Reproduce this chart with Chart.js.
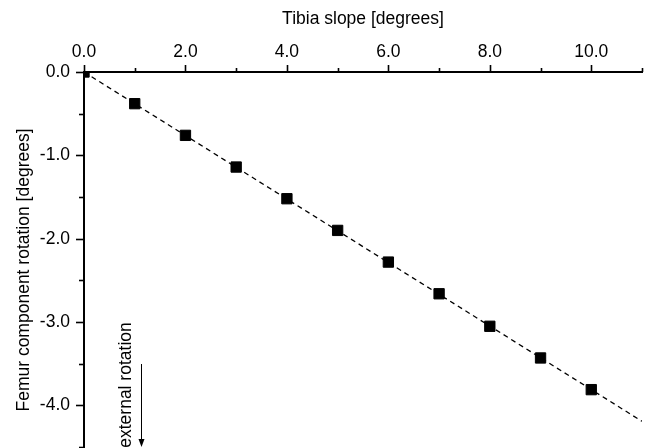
<!DOCTYPE html>
<html>
<head>
<meta charset="utf-8">
<script src="https://cdn.jsdelivr.net/npm/chart.js@4"></script>
<style>
html,body{margin:0;padding:0;background:#fff;overflow:hidden;}
#wrap{width:652px;height:448px;position:relative;}
canvas{display:block;}
</style>
</head>
<body>
<div id="wrap"><canvas id="c" width="652" height="448"></canvas></div>
<script>
// ---- data ----
const tibiaSlope = [0, 1, 2, 3, 4, 5, 6, 7, 8, 9, 10];
const femurRotation = [0, -0.38, -0.76, -1.14, -1.52, -1.90, -2.28, -2.66, -3.05, -3.43, -3.81];
const fitX = [0, 11];
const fitY = [0, -4.19];
const xTickValues = [0, 1, 2, 3, 4, 5, 6, 7, 8, 9, 10, 11];
const xTickLabels = ['0.0', '', '2.0', '', '4.0', '', '6.0', '', '8.0', '', '10.0', ''];
const yTickValues = [0, -0.5, -1, -1.5, -2, -2.5, -3, -3.5, -4, -4.5];
const yTickLabels = ['0.0', '', '-1.0', '', '-2.0', '', '-3.0', '', '-4.0', ''];
const xTitle = 'Tibia slope [degrees]';
const yTitle = 'Femur component rotation [degrees]';
const annotationText = 'external rotation';

const FONT = "'Liberation Sans', Arial, sans-serif";
const FS = 17.5;

const tickPlugin = {
  id: 'customTicks',
  afterDraw(chart) {
    const ctx = chart.ctx;
    const xs = chart.scales.x, ys = chart.scales.y;
    const area = chart.chartArea;
    ctx.save();
    ctx.strokeStyle = '#000';
    ctx.lineWidth = 1.6;
    xTickValues.forEach((v, i) => {
      const px = Math.round(xs.getPixelForValue(v)) + 0.5;
      const len = xTickLabels[i] ? 7 : 4;
      ctx.beginPath();
      ctx.moveTo(px, area.top);
      ctx.lineTo(px, area.top - len);
      ctx.stroke();
    });
    yTickValues.forEach((v, i) => {
      const py = Math.round(ys.getPixelForValue(v)) + 0.5;
      const len = yTickLabels[i] ? 8 : 5;
      ctx.beginPath();
      ctx.moveTo(area.left, py);
      ctx.lineTo(area.left - len, py);
      ctx.stroke();
    });
    // y axis title
    ctx.fillStyle = '#000';
    ctx.font = FS + 'px ' + FONT;
    ctx.textAlign = 'center';
    ctx.textBaseline = 'middle';
    ctx.save();
    ctx.translate(24, 270);
    ctx.rotate(-Math.PI / 2);
    ctx.fillText(yTitle, 0, 0);
    ctx.restore();
    // annotation text
    ctx.save();
    ctx.translate(126, 385);
    ctx.rotate(-Math.PI / 2);
    ctx.fillText(annotationText, 0, 0);
    ctx.restore();
    // arrow
    const ax = 141.5;
    ctx.lineWidth = 1;
    ctx.beginPath();
    ctx.moveTo(ax, 364);
    ctx.lineTo(ax, 442);
    ctx.stroke();
    ctx.beginPath();
    ctx.moveTo(ax - 3, 439);
    ctx.lineTo(ax + 3, 439);
    ctx.lineTo(ax, 447);
    ctx.closePath();
    ctx.fill();
    ctx.restore();
  }
};

function labelFor(values, labels, v) {
  const i = values.findIndex(t => Math.abs(t - v) < 1e-9);
  return (i >= 0 && labels[i]) ? labels[i] : null;
}

new Chart(document.getElementById('c'), {
  type: 'scatter',
  data: {
    datasets: [
      {
        type: 'scatter',
        data: tibiaSlope.map((x, i) => ({x: x, y: femurRotation[i]})),
        pointStyle: 'rect',
        pointRadius: 7.3,
        pointHoverRadius: 7.3,
        pointBackgroundColor: '#000',
        pointBorderColor: '#000',
        pointBorderWidth: 1,
        clip: 0,
        order: 1
      },
      {
        type: 'line',
        data: fitX.map((x, i) => ({x: x, y: fitY[i]})),
        borderColor: '#000',
        borderWidth: 1.3,
        borderDash: [5, 4],
        pointRadius: 0,
        pointHoverRadius: 0,
        fill: false,
        clip: 0,
        order: 2
      }
    ]
  },
  options: {
    responsive: false,
    animation: false,
    devicePixelRatio: 1,
    layout: {autoPadding: false, padding: {left: 0, right: 10, top: 0, bottom: 0}},
    plugins: {legend: {display: false}, tooltip: {enabled: false}},
    scales: {
      x: {
        type: 'linear',
        position: 'top',
        min: 0, max: 11,
        afterFit(s) { s.height = 72; s.paddingLeft = 0; s.paddingRight = 0; },
        border: {display: true, color: '#000', width: 2},
        grid: {display: true, drawOnChartArea: false, drawTicks: false},
        ticks: {
          stepSize: 1, autoSkip: false, maxRotation: 0, padding: 9,
          color: '#000', font: {family: FONT, size: FS},
          callback(v) { return labelFor(xTickValues, xTickLabels, v); }
        },
        title: {display: true, text: xTitle, color: '#000', font: {family: FONT, size: FS}, padding: {top: 9, bottom: 4}}
      },
      y: {
        type: 'linear',
        position: 'left',
        min: -4.51, max: 0,
        afterFit(s) { s.width = 84; s.paddingTop = 0; s.paddingBottom = 0; },
        border: {display: true, color: '#000', width: 2},
        grid: {display: true, drawOnChartArea: false, drawTicks: false},
        ticks: {
          stepSize: 0.5, autoSkip: false, padding: 14,
          color: '#000', font: {family: FONT, size: FS},
          callback(v) { return labelFor(yTickValues, yTickLabels, v); }
        },
        title: {display: false}
      }
    }
  },
  plugins: [tickPlugin]
});
</script>
</body>
</html>
